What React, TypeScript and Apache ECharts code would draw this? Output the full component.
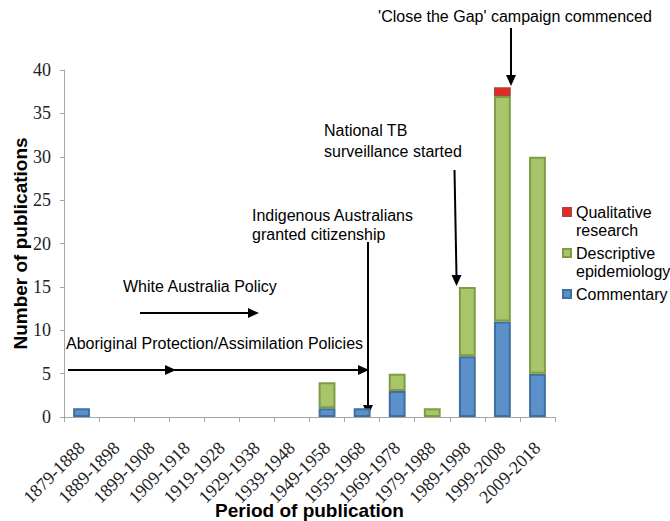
import React, { useEffect, useRef } from "react";
import * as echarts from "echarts";

const categories = [
  "1879-1888", "1889-1898", "1899-1908", "1909-1918", "1919-1928", "1929-1938", "1939-1948",
  "1949-1958", "1959-1968", "1969-1978", "1979-1988", "1989-1998", "1999-2008", "2009-2018",
];
const commentary = [1, 0, 0, 0, 0, 0, 0, 1, 1, 3, 0, 7, 11, 5];
const descriptive = [0, 0, 0, 0, 0, 0, 0, 3, 0, 2, 1, 8, 26, 25];
const qualitative = [0, 0, 0, 0, 0, 0, 0, 0, 0, 0, 0, 0, 1, 0];
const seriesNames = ["Commentary", "Descriptive epidemiology", "Qualitative research"];
const yMin = 0;
const yMax = 40;
const yStep = 5;

const SANS = "'Liberation Sans', Arial, sans-serif";
const SERIF = "'Liberation Serif', 'Times New Roman', serif";

const toBar = (arr: number[]) => arr.map((v) => (v === 0 ? null : v));

function arrowHead(tx: number, ty: number, dir: "down" | "right", len = 11, half = 5) {
  if (dir === "down") {
    return [[tx - half, ty - len], [tx + half, ty - len], [tx, ty]];
  }
  return [[tx - len, ty - half], [tx - len, ty + half], [tx, ty]];
}

function annotationGraphics() {
  const txt = (text: string, x: number, y: number, align = "left") => ({
    type: "text",
    x,
    y,
    silent: true,
    style: { text, fill: "#000", font: `16px ${SANS}`, align, verticalAlign: "middle" },
  });
  const ln = (x1: number, y1: number, x2: number, y2: number) => ({
    type: "line",
    silent: true,
    shape: { x1, y1, x2, y2 },
    style: { stroke: "#000", lineWidth: 2 },
  });
  const head = (tx: number, ty: number, dir: "down" | "right") => ({
    type: "polygon",
    silent: true,
    shape: { points: arrowHead(tx, ty, dir) },
    style: { fill: "#000" },
  });
  return [
    txt("'Close the Gap' campaign commenced", 515, 16, "center"),
    ln(511, 28, 511, 76),
    head(511, 86, "down"),

    txt("National TB", 324, 130),
    txt("surveillance started", 324, 151),
    ln(454.5, 170, 456.5, 276),
    head(456.5, 286, "down"),

    txt("Indigenous Australians", 252, 215),
    txt("granted citizenship", 252, 234),
    ln(368, 242, 368, 406),
    head(368, 416, "down"),

    txt("White Australia Policy", 123, 286),
    ln(140, 313, 250, 313),
    head(259, 313, "right"),

    txt("Aboriginal Protection/Assimilation Policies", 66, 343),
    ln(68, 370, 362, 370),
    head(176, 370, "right"),
    head(369, 370, "right"),
  ];
}

export default function App() {
  const ref = useRef<HTMLDivElement>(null);
  useEffect(() => {
    document.body.style.margin = "0";
    const chart = echarts.init(ref.current!, null, { renderer: "svg" });
    const barStyle = (fill: string, border: string) => ({
      color: fill,
      borderColor: border,
      borderWidth: 2,
    });
    chart.setOption({
      animation: false,
      backgroundColor: "#fff",
      grid: {
        left: 64,
        right: 115,
        top: 70,
        bottom: 104,
        containLabel: false,
        outerBoundsMode: "none",
      },
      legend: {
        orient: "vertical",
        left: 562,
        top: 185,
        padding: 0,
        itemWidth: 8,
        itemHeight: 8,
        itemGap: -13,
        icon: "rect",
        selectedMode: false,
        formatter: (name: string) =>
          name === "Commentary" ? "\nCommentary\n" : "\n" + name.replace(" ", "\n"),
        textStyle: { fontFamily: SANS, fontSize: 16, color: "#000", lineHeight: 18 },
        data: [seriesNames[2], seriesNames[1], seriesNames[0]],
      },
      xAxis: {
        type: "category",
        data: categories,
        boundaryGap: true,
        name: "Period of publication",
        nameLocation: "middle",
        nameGap: 84,
        nameMoveOverlap: false,
        nameTextStyle: { fontFamily: SANS, fontSize: 19, fontWeight: "bold", color: "#000" },
        axisLine: { lineStyle: { color: "#a6a6a6", width: 1 } },
        axisTick: { show: true, interval: 0, length: 5, lineStyle: { color: "#a6a6a6" } },
        axisLabel: {
          interval: 0,
          rotate: 45,
          margin: 28,
          fontFamily: SERIF,
          fontSize: 18,
          color: "#222",
        },
        splitLine: { show: false },
      },
      yAxis: {
        type: "value",
        min: yMin,
        max: yMax,
        interval: yStep,
        name: "Number of publications",
        nameLocation: "middle",
        nameGap: 34,
        nameMoveOverlap: false,
        nameTextStyle: { fontFamily: SANS, fontSize: 19, fontWeight: "bold", color: "#000" },
        axisLine: { show: true, lineStyle: { color: "#a6a6a6", width: 1 } },
        axisTick: { show: true, length: 4, lineStyle: { color: "#a6a6a6" } },
        axisLabel: { margin: 13, fontFamily: SERIF, fontSize: 18, color: "#222" },
        splitLine: { show: false },
      },
      series: [
        {
          name: seriesNames[0],
          type: "bar",
          stack: "total",
          barWidth: "48%",
          data: toBar(commentary),
          itemStyle: barStyle("#5b90cb", "#3f6e9f"),
        },
        {
          name: seriesNames[1],
          type: "bar",
          stack: "total",
          barWidth: "48%",
          data: toBar(descriptive),
          itemStyle: barStyle("#a8c56b", "#7f9c45"),
        },
        {
          name: seriesNames[2],
          type: "bar",
          stack: "total",
          barWidth: "48%",
          data: toBar(qualitative),
          itemStyle: barStyle("#f2231a", "#b3403a"),
        },
      ],
      graphic: annotationGraphics(),
    });
    return () => chart.dispose();
  }, []);
  return (
    <div
      ref={ref}
      style={{ position: "fixed", left: 0, top: 0, width: 670, height: 521, background: "#fff" }}
    />
  );
}
